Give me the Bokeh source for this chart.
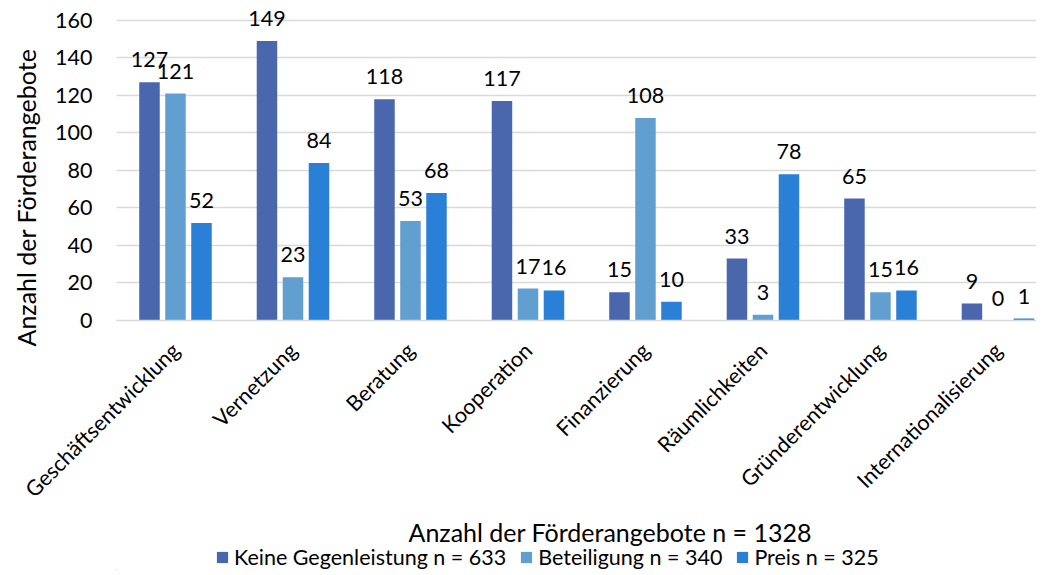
import math
from bokeh.plotting import figure
from bokeh.layouts import column
from bokeh.models import (ColumnDataSource, FixedTicker, Range1d, Legend, LegendItem, Title)
from bokeh.core.properties import value
from bokeh.embed import file_html
from bokeh.resources import INLINE

categories = ["Geschäftsentwicklung", "Vernetzung", "Beratung", "Kooperation",
              "Finanzierung", "Räumlichkeiten", "Gründerentwicklung", "Internationalisierung"]
keine = [127, 149, 118, 117, 15, 33, 65, 9]
beteiligung = [121, 23, 53, 17, 108, 3, 15, 0]
preis = [52, 84, 68, 16, 10, 78, 16, 1]
series_names = ["Keine Gegenleistung n = 633", "Beteiligung n = 340", "Preis n = 325"]
title_text = "Anzahl der Förderangebote n = 1328"
y_label = "Anzahl der Förderangebote"
y_ticks = [0, 20, 40, 60, 80, 100, 120, 140, 160]

colors = ["#4a66ac", "#629fd1", "#2a7fd6"]
FONT = "Lato"
FS = "21.5px"
FS_BIG = "25px"

p = figure(frame_width=920, frame_height=313, output_backend="svg", toolbar_location=None,
           x_range=Range1d(-0.502, 7.328), y_range=Range1d(0, 166.9),
           min_border_left=110, min_border_right=0, min_border_top=7, min_border_bottom=0)
p.outline_line_color = None
p.background_fill_color = "white"

offsets = [-0.2213, 0.0, 0.2213]
series = [keine, beteiligung, preis]
for vals, off, col in zip(series, offsets, colors):
    src = ColumnDataSource(dict(x=[i + off for i in range(len(categories))], top=vals,
                                lab=[str(v) for v in vals]))
    p.vbar(x="x", top="top", width=0.1745, bottom=0, source=src, fill_color=col, line_color=None)
    p.text(x="x", y="top", text="lab", source=src, text_align="center", text_baseline="bottom",
           y_offset=-15, text_font=value(FONT), text_font_size=FS, text_color="#000000")

# axes
p.xaxis.ticker = FixedTicker(ticks=list(range(len(categories))))
p.xaxis.major_label_overrides = {i: c for i, c in enumerate(categories)}
p.xaxis.major_label_orientation = math.pi / 4
p.xaxis.major_tick_line_color = None
p.xaxis.minor_tick_line_color = None
p.xaxis.axis_line_color = "#d9d9d9"
p.xaxis.axis_line_width = 1.5
p.xaxis.major_label_text_font = FONT
p.xaxis.major_label_text_font_size = FS
p.xaxis.major_label_text_color = "#000000"
p.xaxis.major_label_standoff = 20

p.yaxis.ticker = FixedTicker(ticks=y_ticks)
p.yaxis.axis_line_color = None
p.yaxis.major_tick_line_color = None
p.yaxis.minor_tick_line_color = None
p.yaxis.major_label_text_font = FONT
p.yaxis.major_label_text_font_size = FS
p.yaxis.major_label_text_color = "#000000"
p.yaxis.major_label_standoff = 18

p.xgrid.grid_line_color = None
p.ygrid.grid_line_color = "#d9d9d9"
p.ygrid.grid_line_width = 1.5

# y title (vertical), shifted slightly below the frame centre as in the reference
ytitle = Title(text=y_label, align="left", offset=-26, vertical_align="top", standoff=20,
               text_font=FONT, text_font_size=FS_BIG, text_font_style="normal", text_color="#000000")
p.add_layout(ytitle, "left")

# x title below the category labels
t = Title(text=title_text, align="left", offset=292, text_font=FONT, text_font_size=FS_BIG,
          text_font_style="normal", text_color="#000000", standoff=0)
p.add_layout(t, "below")

# legend strip
p2 = figure(width=1030, height=24, output_backend="svg", toolbar_location=None,
            x_axis_type=None, y_axis_type=None, x_range=Range1d(0, 920), y_range=Range1d(0, 24),
            min_border_left=0, min_border_right=0, min_border_top=0, min_border_bottom=0)
p2.outline_line_color = None
p2.grid.visible = False
items = []
for name, col in zip(series_names, colors):
    r = p2.vbar(x=[-500], top=[1], width=1, fill_color=col, line_color=None)
    items.append(LegendItem(label=name, renderers=[r]))
legend = Legend(items=items, orientation="horizontal", location=(99, 0), border_line_color=None,
                background_fill_alpha=0, padding=0, margin=0, spacing=13, label_standoff=5,
                glyph_width=14, glyph_height=14, label_text_font=FONT, label_text_font_size=FS,
                label_text_color="#000000", label_height=20)
p2.add_layout(legend, "center")

layout = column(p, p2, spacing=0)
open("out.html", "w").write(file_html(layout, INLINE))
